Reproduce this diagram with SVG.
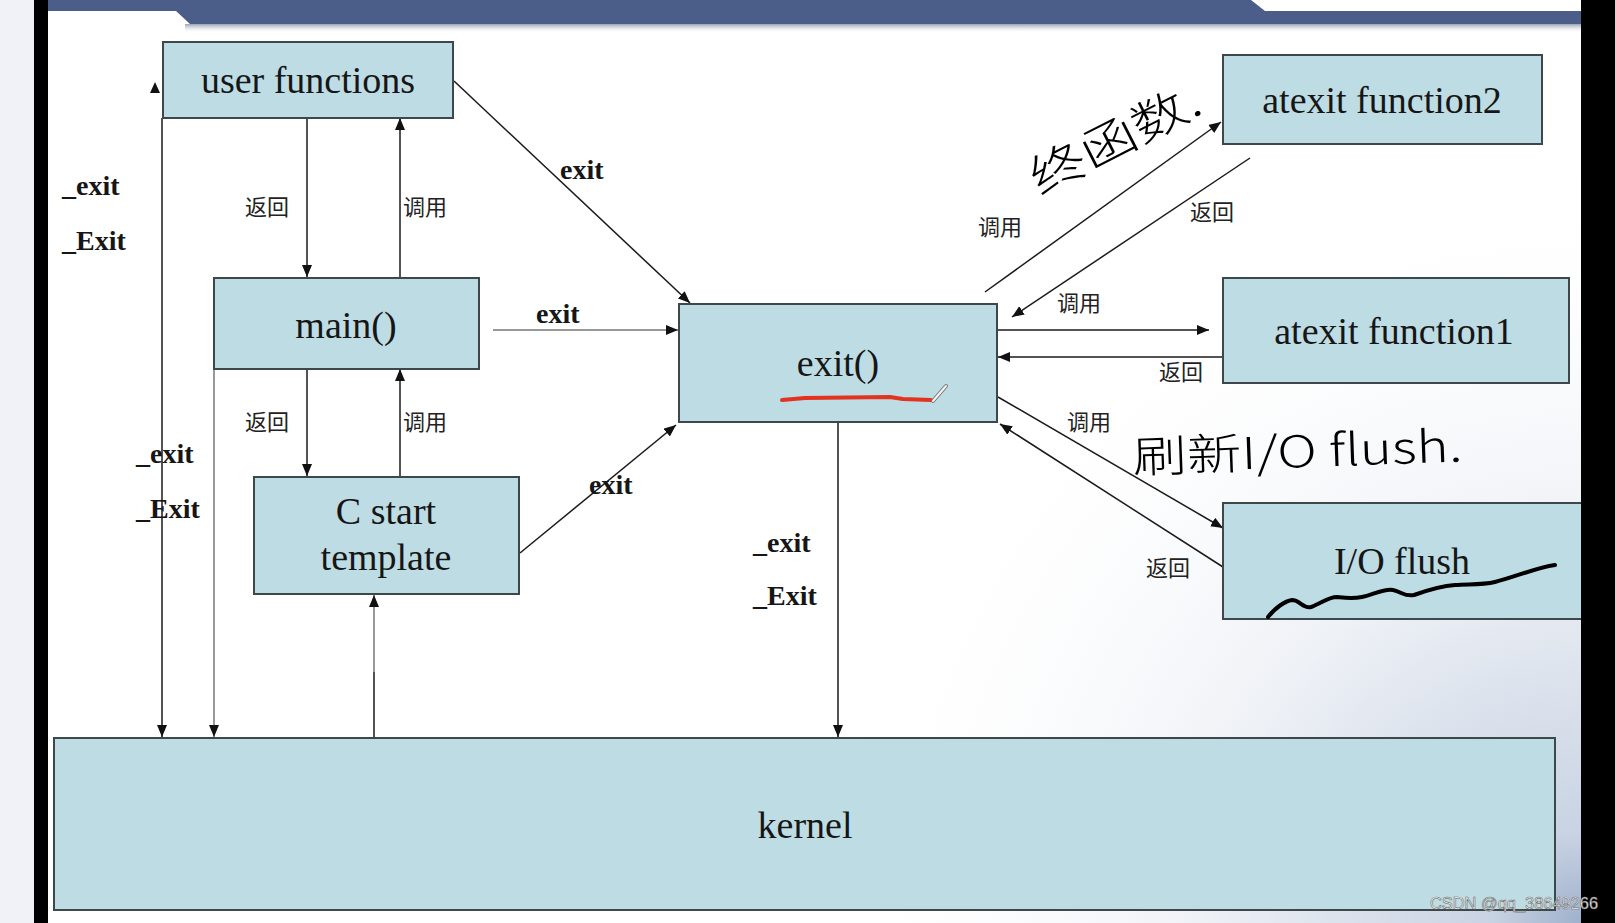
<svg xmlns="http://www.w3.org/2000/svg" width="1615" height="923" viewBox="0 0 1615 923">
<style>
.box{fill:#bedce3;stroke:#3e474a;stroke-width:2}
.t{font-family:"Liberation Serif","Times New Roman",serif;font-size:38px;fill:#161616;text-anchor:middle}
.b{font-family:"Liberation Serif","Times New Roman",serif;font-size:28px;font-weight:bold;fill:#161616}
.c{font-family:"Noto Sans CJK SC","Noto Sans",sans-serif;font-size:22px;fill:#222;text-anchor:middle}
.ln{stroke:#1a1a1a;stroke-width:1.5;fill:none}
.lg{stroke:#777;stroke-width:1.5;fill:none}
.hw{font-family:"Noto Sans CJK SC","Noto Sans",sans-serif;font-weight:300;fill:#000}
</style>
<defs>
<marker id="arr" viewBox="0 0 12 10" refX="12" refY="5" markerWidth="12" markerHeight="10" markerUnits="userSpaceOnUse" orient="auto">
<path d="M0,0 L12,5 L0,10 z" fill="#111"/>
</marker>
<radialGradient id="bg" cx="1581" cy="923" r="760" gradientUnits="userSpaceOnUse">
<stop offset="0" stop-color="#9fb1cc"/>
<stop offset="0.12" stop-color="#c9d3e3"/>
<stop offset="0.5" stop-color="#eef1f6"/>
<stop offset="1" stop-color="#ffffff" stop-opacity="0"/>
</radialGradient>
<linearGradient id="sh" x1="0" y1="0" x2="0" y2="1">
<stop offset="0" stop-color="#9aa3b3"/>
<stop offset="1" stop-color="#ffffff" stop-opacity="0"/>
</linearGradient>
</defs>
<rect x="0" y="0" width="1615" height="923" fill="#ffffff"/>
<rect x="0" y="0" width="34" height="923" fill="#f1f2f8"/>
<rect x="48" y="0" width="1533" height="923" fill="url(#bg)"/>
<rect x="185" y="24" width="1396" height="9" fill="url(#sh)"/>
<polygon points="48,0 1251,0 1265,11 1581,11 1581,24 190,24 176,11 48,11" fill="#4b5d89"/>
<rect x="34" y="0" width="14" height="923" fill="#000"/>

<g id="connectors">
<line class="ln" x1="307" y1="118" x2="307" y2="277" marker-end="url(#arr)"/>
<line class="ln" x1="400" y1="277" x2="400" y2="118" marker-end="url(#arr)"/>
<line class="ln" x1="307" y1="369" x2="307" y2="476" marker-end="url(#arr)"/>
<line class="ln" x1="400" y1="476" x2="400" y2="369" marker-end="url(#arr)"/>
<line class="ln" x1="454" y1="81" x2="690" y2="303" marker-end="url(#arr)"/>
<line class="lg" x1="493" y1="330" x2="678" y2="330" marker-end="url(#arr)"/>
<line class="ln" x1="520" y1="553" x2="676" y2="425" marker-end="url(#arr)"/>
<line class="lg" x1="374" y1="672" x2="374" y2="600"/>
<line class="ln" x1="374" y1="738" x2="374" y2="672"/>
<line class="lg" x1="374" y1="606" x2="374" y2="595" marker-end="url(#arr)"/>
<line class="ln" x1="162" y1="118" x2="162" y2="737" marker-end="url(#arr)"/>
<polygon points="155,82 150,93 160,93" fill="#111"/>
<line class="lg" x1="214" y1="369" x2="214" y2="737" marker-end="url(#arr)"/>
<line class="ln" x1="838" y1="423" x2="838" y2="737" marker-end="url(#arr)"/>
<line class="ln" x1="985" y1="292" x2="1221" y2="122" marker-end="url(#arr)"/>
<line class="ln" x1="1250" y1="158" x2="1012" y2="317" marker-end="url(#arr)"/>
<line class="ln" x1="998" y1="330" x2="1209" y2="330" marker-end="url(#arr)"/>
<line class="ln" x1="1222" y1="357" x2="998" y2="357" marker-end="url(#arr)"/>
<line class="ln" x1="998" y1="397" x2="1223" y2="528" marker-end="url(#arr)"/>
<line class="ln" x1="1223" y1="567" x2="1000" y2="424" marker-end="url(#arr)"/>
<text class="c" x="267" y="215">返回</text>
<text class="c" x="425" y="215">调用</text>
<text class="c" x="267" y="430">返回</text>
<text class="c" x="425" y="430">调用</text>
<text class="c" x="1000" y="235">调用</text>
<text class="c" x="1212" y="220">返回</text>
<text class="c" x="1079" y="311">调用</text>
<text class="c" x="1181" y="380">返回</text>
<text class="c" x="1089" y="430">调用</text>
<text class="c" x="1168" y="576">返回</text>
<text class="b" x="560" y="179">exit</text>
<text class="b" x="536" y="323">exit</text>
<text class="b" x="589" y="494">exit</text>
<text class="b" x="62" y="195">_exit</text>
<text class="b" x="62" y="250">_Exit</text>
<text class="b" x="136" y="463">_exit</text>
<text class="b" x="136" y="518">_Exit</text>
<text class="b" x="753" y="552">_exit</text>
<text class="b" x="753" y="605">_Exit</text>
</g>

<g id="user-functions">
<rect class="box" x="163" y="42" width="290" height="76"/>
<text class="t" x="308" y="93">user functions</text>
</g>
<g id="main">
<rect class="box" x="214" y="278" width="265" height="91"/>
<text class="t" x="346" y="338">main()</text>
</g>
<g id="c-start-template">
<rect class="box" x="254" y="477" width="265" height="117"/>
<text class="t" x="386" y="524">C start</text>
<text class="t" x="386" y="570">template</text>
</g>
<g id="exit-fn">
<rect class="box" x="679" y="304" width="318" height="118"/>
<text class="t" x="838" y="376">exit()</text>
<path d="M782,400 L805,398 L890,397 L903,399 L931,400" fill="none" stroke="#e3321f" stroke-width="4" stroke-linecap="round"/>
<line x1="933" y1="401" x2="946" y2="386" stroke="#777" stroke-width="4" stroke-linecap="round"/>
<line x1="933" y1="401" x2="946" y2="386" stroke="#f4f4f4" stroke-width="2" stroke-linecap="round"/>
</g>
<g id="atexit-function2">
<rect class="box" x="1223" y="55" width="319" height="89"/>
<text class="t" x="1382" y="113">atexit function2</text>
</g>
<g id="atexit-function1">
<rect class="box" x="1223" y="278" width="346" height="105"/>
<text class="t" x="1394" y="344">atexit function1</text>
</g>
<g id="io-flush">
<rect class="box" x="1223" y="503" width="370" height="116"/>
<text class="t" x="1402" y="574">I/O flush</text>
<path d="M1268,617 C1275,608 1285,601 1292,600 C1300,600 1303,609 1311,607 C1320,604 1328,597 1337,597 C1346,598 1352,599 1362,597 C1372,595 1385,588 1393,590 C1402,592 1405,597 1414,595 C1428,590 1440,586 1455,585 C1470,584 1482,585 1495,582 C1515,577 1535,568 1555,565" fill="none" stroke="#000" stroke-width="4" stroke-linecap="round"/>
</g>
<rect x="1581" y="0" width="34" height="923" fill="#000"/>
<g id="kernel">
<rect class="box" x="54" y="738" width="1501" height="172"/>
<text class="t" x="805" y="838">kernel</text>
</g>

<g id="annotations">
<text class="hw" font-size="46" transform="translate(1040,196) rotate(-27)" textLength="185" lengthAdjust="spacingAndGlyphs">终函数.</text>
<text class="hw" font-size="44" transform="translate(1133,473) rotate(-2)" textLength="330" lengthAdjust="spacingAndGlyphs">刷新I/O flush.</text>
<text x="1430" y="909" font-family="Liberation Sans, Arial, sans-serif" font-size="16" fill="#ffffff" stroke="#6a6a6a" stroke-width="0.6" textLength="168" lengthAdjust="spacingAndGlyphs">CSDN @qq_38649266</text>
</g>
</svg>
